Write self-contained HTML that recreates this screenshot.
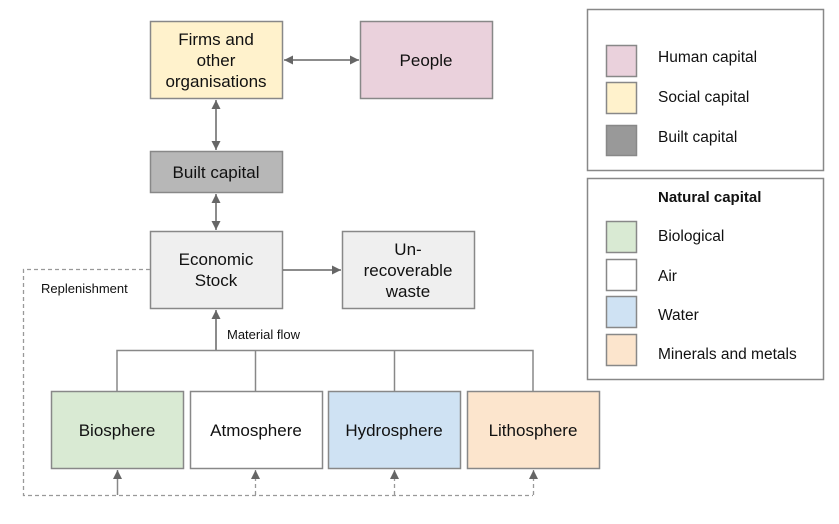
<!DOCTYPE html>
<html><head><meta charset="utf-8"><style>
body{margin:0;background:#fff;}
svg text{font-family:"Liberation Sans",Arial,sans-serif;fill:#111;}
</style></head><body>
<svg width="839" height="519" viewBox="0 0 839 519" xmlns="http://www.w3.org/2000/svg">
<defs>
<marker id="a" viewBox="0 0 10 10" refX="10" refY="5" markerWidth="9" markerHeight="9" orient="auto-start-reverse" markerUnits="userSpaceOnUse"><path d="M0,0L10,5L0,10z" fill="#666"/></marker>
</defs>
<g stroke="#888" stroke-width="1.5">
<rect x="150.5" y="21.5" width="132" height="77" fill="#fff2cc"/>
<rect x="360.5" y="21.5" width="132" height="77" fill="#ead1dc"/>
<rect x="150.5" y="151.5" width="132" height="41" fill="#b7b7b7"/>
<rect x="150.5" y="231.5" width="132" height="77" fill="#efefef"/>
<rect x="342.5" y="231.5" width="132" height="77" fill="#efefef"/>
<rect x="51.5" y="391.5" width="132" height="77" fill="#d9ead3"/>
<rect x="190.5" y="391.5" width="132" height="77" fill="#fff"/>
<rect x="328.5" y="391.5" width="132" height="77" fill="#cfe2f3"/>
<rect x="467.5" y="391.5" width="132" height="77" fill="#fce5cd"/>
<rect x="587.5" y="9.5" width="236" height="161" fill="#fff"/>
<rect x="587.5" y="178.5" width="236" height="201" fill="#fff"/>
<rect x="606.5" y="45.5" width="30" height="31" fill="#ead1dc"/>
<rect x="606.5" y="82.5" width="30" height="31" fill="#fff2cc"/>
<rect x="606.5" y="125.5" width="30" height="30" fill="#999"/>
<rect x="606.5" y="221.5" width="30" height="31" fill="#d9ead3"/>
<rect x="606.5" y="259.5" width="30" height="31" fill="#fff"/>
<rect x="606.5" y="296.5" width="30" height="31" fill="#cfe2f3"/>
<rect x="606.5" y="334.5" width="30" height="31" fill="#fce5cd"/>
</g>
<g stroke="#666" stroke-width="1.5" fill="none">
<line x1="284" y1="60" x2="359" y2="60" marker-start="url(#a)" marker-end="url(#a)"/>
<line x1="216" y1="100" x2="216" y2="150" marker-start="url(#a)" marker-end="url(#a)"/>
<line x1="216" y1="194" x2="216" y2="230" marker-start="url(#a)" marker-end="url(#a)"/>
<line x1="283" y1="270" x2="341" y2="270" marker-end="url(#a)"/>
<line x1="216" y1="350" x2="216" y2="310" marker-end="url(#a)"/>
</g>
<g stroke="#888" stroke-width="1.5" fill="none">
<polyline points="117,391 117,350.5 533,350.5 533,391"/>
<line x1="255.5" y1="350" x2="255.5" y2="391"/>
<line x1="394.5" y1="350" x2="394.5" y2="391"/>
</g>
<g stroke="#999" stroke-width="1.3" fill="none" stroke-dasharray="4,3">
<polyline points="150,269.5 23.5,269.5 23.5,495.5 533,495.5"/>
<line x1="255.5" y1="495" x2="255.5" y2="470" marker-end="url(#a)"/>
<line x1="394.5" y1="495" x2="394.5" y2="470" marker-end="url(#a)"/>
<line x1="533.5" y1="495" x2="533.5" y2="470" marker-end="url(#a)"/>
</g>
<line x1="117.5" y1="495" x2="117.5" y2="470" stroke="#888" stroke-width="1.5" marker-end="url(#a)"/>
<g font-size="17" text-anchor="middle">
<text x="216" y="45">Firms and</text>
<text x="216" y="66">other</text>
<text x="216" y="87">organisations</text>
<text x="426" y="66">People</text>
<text x="216" y="178">Built capital</text>
<text x="216" y="265">Economic</text>
<text x="216" y="286">Stock</text>
<text x="408" y="255">Un-</text>
<text x="408" y="276">recoverable</text>
<text x="408" y="297">waste</text>
<text x="117" y="436">Biosphere</text>
<text x="256" y="436">Atmosphere</text>
<text x="394" y="436">Hydrosphere</text>
<text x="533" y="436">Lithosphere</text>
</g>
<g font-size="13">
<text x="41" y="293">Replenishment</text>
<text x="227" y="339">Material flow</text>
</g>
<g font-size="15.5">
<text x="658" y="62">Human capital</text>
<text x="658" y="102">Social capital</text>
<text x="658" y="142">Built capital</text>
<text x="658" y="202" font-weight="bold" font-size="15">Natural capital</text>
<text x="658" y="241">Biological</text>
<text x="658" y="281">Air</text>
<text x="658" y="320">Water</text>
<text x="658" y="359">Minerals and metals</text>
</g>
</svg>
</body></html>
